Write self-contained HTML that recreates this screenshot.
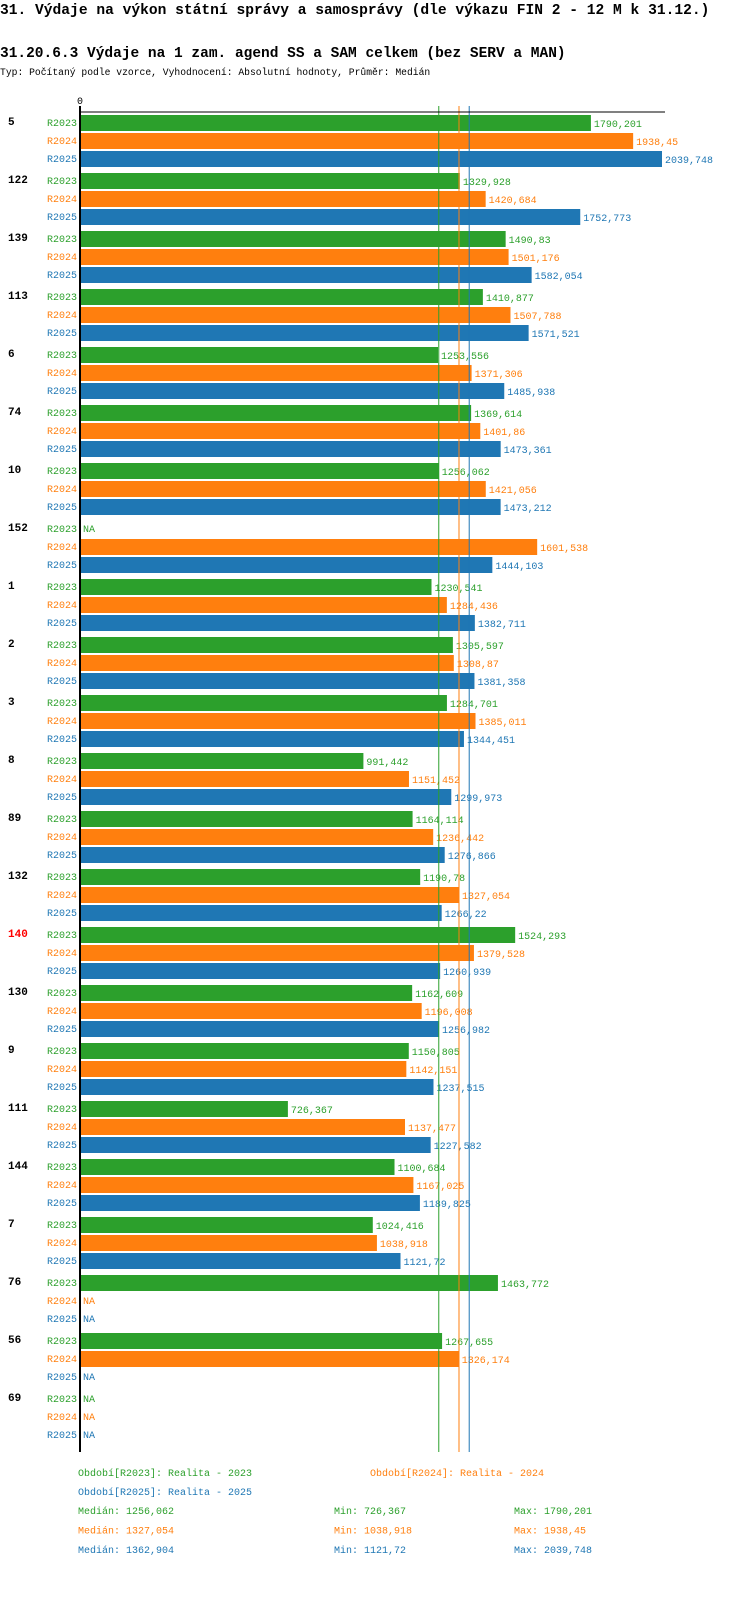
<!DOCTYPE html>
<html><head><meta charset="utf-8"><style>
body{margin:0;background:#fff;width:750px;height:1614px;overflow:hidden;font-family:"Liberation Mono",monospace}
svg text{font-family:"Liberation Mono",monospace}
</style></head><body>
<svg id="c" width="750" height="1614" xmlns="http://www.w3.org/2000/svg">
<text x="0" y="14" font-size="14.6" font-weight="bold">31. Výdaje na výkon státní správy a samosprávy (dle výkazu FIN 2 - 12 M k 31.12.)</text>
<text x="0" y="57" font-size="14.5" font-weight="bold">31.20.6.3 Výdaje na 1 zam. agend SS a SAM celkem (bez SERV a MAN)</text>
<text x="0" y="75" font-size="9.7">Typ: Počítaný podle vzorce, Vyhodnocení: Absolutní hodnoty, Průměr: Medián</text>
<text x="80" y="104" font-size="10" text-anchor="middle">0</text>
</svg>
<script>
const groups=["5","122","139","113","6","74","10","152","1","2","3","8","89","132","140","130","9","111","144","7","76","56","69"];
const r2023=[1790.201,1329.928,1490.83,1410.877,1253.556,1369.614,1256.062,null,1230.541,1305.597,1284.701,991.442,1164.114,1190.78,1524.293,1162.609,1150.805,726.367,1100.684,1024.416,1463.772,1267.655,null];
const r2024=[1938.45,1420.684,1501.176,1507.788,1371.306,1401.86,1421.056,1601.538,1284.436,1308.87,1385.011,1151.452,1236.442,1327.054,1379.528,1196.008,1142.151,1137.477,1167.025,1038.918,null,1326.174,null];
const r2025=[2039.748,1752.773,1582.054,1571.521,1485.938,1473.361,1473.212,1444.103,1382.711,1381.358,1344.451,1299.973,1276.866,1266.22,1260.939,1256.982,1237.515,1227.582,1189.825,1121.72,null,null,null];
const seriesNames=["R2023","R2024","R2025"];
const medians=[1256.062,1327.054,1362.904];
const mins=[726.367,1038.918,1121.72];
const maxs=[1790.201,1938.45,2039.748];
const highlight="140";
const colors=["#2ca02c","#ff7f0e","#1f77b4"];
const svg=document.getElementById('c');
const NS="http://www.w3.org/2000/svg";
const x0=81, xMax=2039.748, xW=581;
const xs=v=>x0+v/xMax*xW;
const gy=g=>115+58*g;
const fmt=v=>String(v).replace('.',',');
function mk(t,a,txt){const e=document.createElementNS(NS,t);for(const k in a)e.setAttribute(k,a[k]);if(txt!=null)e.textContent=txt;svg.appendChild(e);return e;}
const series=[r2023,r2024,r2025];
const bottom=gy(groups.length-1)+61;
groups.forEach((g,gi)=>{
  const t=mk('text',{x:8,y:gy(gi)+10,'font-size':11,'font-weight':'bold',fill:g===highlight?'#ff0000':'#000'},g);
  
  
  series.forEach((s,si)=>{
    const y=gy(gi)+18*si;const v=s[gi];
    const l=mk('text',{x:77,y:y+11,'font-size':10,'text-anchor':'end',fill:colors[si]},seriesNames[si]);
    
    
    if(v==null){
      const n=mk('text',{x:83,y:y+11,'font-size':10,fill:colors[si]},'NA');
      
      
    }else{
      const r=mk('rect',{x:x0,y:y,width:xs(v)-x0,height:16,fill:colors[si]});
      
      
      const vl=mk('text',{x:xs(v)+3,y:y+12,'font-size':10,fill:colors[si]},fmt(v));
      
      
    }
  });
});
medians.forEach((m,i)=>{
  const l=mk('line',{x1:xs(m),x2:xs(m),y1:106,y2:bottom,stroke:colors[i],'stroke-width':1});
  
  
});
const ax=mk('line',{x1:80,x2:80,y1:106,y2:bottom,stroke:'#000','stroke-width':2});


const tx=mk('line',{x1:79,x2:665,y1:112,y2:112,stroke:'#000','stroke-width':1});


const legend=[["Období[R2023]: Realita - 2023",78,1476,0],["Období[R2024]: Realita - 2024",370,1476,1],["Období[R2025]: Realita - 2025",78,1495,2]];
legend.forEach(([t,x,y,c])=>{
  const e=mk('text',{x:x,y:y,'font-size':10,fill:colors[c]},t);
  
  
});
[0,1,2].forEach(i=>{
  const y=1514+19.5*i;
  const a=mk('text',{x:78,y:y,'font-size':10,fill:colors[i]},'Medián: '+fmt(medians[i]));
  
  
  const b=mk('text',{x:334,y:y,'font-size':10,fill:colors[i]},'Min: '+fmt(mins[i]));
  
  
  const c=mk('text',{x:514,y:y,'font-size':10,fill:colors[i]},'Max: '+fmt(maxs[i]));
  
  
});
</script>
</body></html>
